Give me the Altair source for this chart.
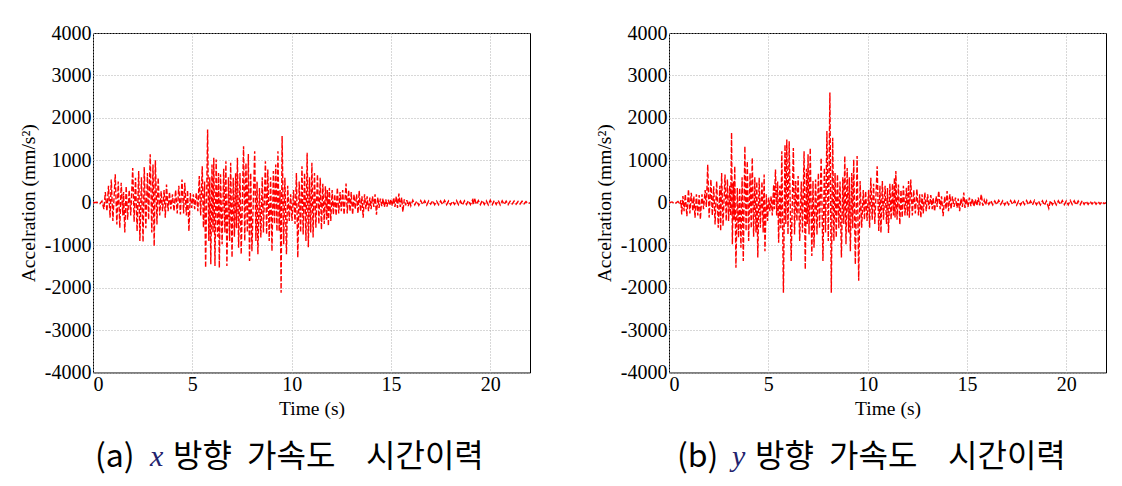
import altair as alt
import pandas as pd

# ---------------- data ----------------
time_x = [
    0.0, 0.2, 0.35, 0.45, 0.55, 0.62, 0.70, 0.78, 0.86, 0.92,
    1.00, 1.12, 1.20, 1.27, 1.35, 1.42, 1.50, 1.54, 1.60, 1.67,
    1.74, 1.82, 1.90, 2.00, 2.07, 2.14, 2.22, 2.30, 2.36, 2.44,
    2.52, 2.58, 2.66, 2.74, 2.80, 2.88, 2.96, 3.02, 3.08, 3.14,
    3.22, 3.28, 3.36, 3.43, 3.50, 3.58, 3.64, 3.70, 3.78, 3.85,
    3.92, 4.00, 4.08, 4.16, 4.24, 4.32, 4.40, 4.48, 4.56, 4.62,
    4.70, 4.76, 4.83, 4.90, 4.97, 5.05, 5.12, 5.20, 5.28, 5.35,
    5.42, 5.50, 5.56, 5.62, 5.67, 5.77, 5.83, 5.88, 5.93, 5.99,
    6.04, 6.08, 6.14, 6.20, 6.27, 6.32, 6.36, 6.42, 6.50, 6.58,
    6.64, 6.69, 6.74, 6.82, 6.88, 6.93, 7.00, 7.06, 7.12, 7.18,
    7.22, 7.27, 7.33, 7.40, 7.46, 7.58, 7.64, 7.70, 7.77, 7.82,
    7.88, 7.94, 8.00, 8.14, 8.20, 8.26, 8.30, 8.38, 8.45, 8.52,
    8.58, 8.68, 8.74, 8.80, 8.87, 8.94, 9.01, 9.08, 9.14, 9.20,
    9.26, 9.31, 9.37, 9.42, 9.47, 9.52, 9.60, 9.66, 9.74, 9.80,
    9.88, 9.95, 10.02, 10.10, 10.17, 10.24, 10.31, 10.38, 10.45, 10.52,
    10.58, 10.65, 10.72, 10.78, 10.84, 10.90, 10.96, 11.02, 11.08, 11.15,
    11.22, 11.30, 11.37, 11.44, 11.50, 11.57, 11.64, 11.70, 11.76, 11.80,
    11.85, 11.90, 11.97, 12.04, 12.10, 12.17, 12.24, 12.30, 12.37, 12.44,
    12.50, 12.57, 12.64, 12.74, 12.80, 12.87, 12.94, 13.00, 13.07, 13.14,
    13.20, 13.27, 13.34, 13.40, 13.47, 13.54, 13.60, 13.67, 13.74, 13.80,
    13.87, 13.94, 14.00, 14.07, 14.14, 14.20, 14.27, 14.34, 14.40, 14.47,
    14.54, 14.60, 14.67, 14.74, 14.80, 14.87, 14.94, 15.00, 15.07, 15.14,
    15.20, 15.27, 15.33, 15.40, 15.47, 15.54, 15.60, 15.67, 15.74, 15.80,
    15.87, 15.94, 16.00, 16.1, 16.2, 16.3, 16.4, 16.5, 16.6, 16.7,
    16.8, 16.9, 17.0, 17.1, 17.2, 17.3, 17.4, 17.5, 17.6, 17.7,
    17.8, 17.9, 18.0, 18.1, 18.2, 18.3, 18.4, 18.5, 18.6, 18.7,
    18.8, 18.9, 19.0, 19.1, 19.15, 19.2, 19.3, 19.4, 19.5, 19.6,
    19.7, 19.8, 19.9, 20.0, 20.1, 20.2, 20.3, 20.4, 20.5, 20.6,
    20.7, 20.8, 20.9, 21.0, 21.1, 21.2, 21.3, 21.4, 21.5, 21.6,
    21.7, 21.8, 21.9, 22.0,
]
accel_x = [
    0, 10, -20, 40, -150, 250, -200, 400, -350, 550,
    -430, 670, -510, 500, -590, 470, -300, 250, -700, 390,
    -400, 300, -300, 820, -450, 590, -670, 750, -900, 600,
    -925, 840, -600, 700, -400, 1140, -700, 900, -1020, 1000,
    -510, 590, -300, 275, -200, 300, -350, 430, -200, 250,
    -150, 200, -200, 300, -250, 400, -275, 550, -250, 470,
    -300, 300, -670, 230, -120, 200, -150, 235, -200, 630,
    -300, 860, -590, 500, -1530, 1725, -900, 600, -1450, 900,
    -700, 1060, -1490, 1020, -800, 700, -1530, 670, -980, 800,
    -700, 980, -1490, 600, -900, 940, -1290, 590, -800, 700,
    -600, 1060, -1060, 700, -1215, 1330, -900, 940, -700, 1150,
    -1370, 700, -1140, 1215, -900, 500, -1215, 350, -820, 600,
    -700, 980, -745, 785, -900, 600, -1140, 745, -500, 900,
    -670, 1215, -670, 300, -2120, 1570, -980, 590, -1215, 400,
    -430, 200, -430, 300, -500, 700, -1290, 500, -700, 860,
    -745, 700, -900, 1180, -1050, 600, -700, 940, -820, 700,
    -590, 670, -500, 590, -630, 450, -500, 390, -400, 300,
    -550, 350, -430, 300, -275, 200, -300, 355, -250, 250,
    -200, 300, -280, 450, -250, 300, -200, 250, -280, 200,
    -150, 200, -250, 280, -200, 150, -355, 200, -150, 150,
    -200, 120, -150, 150, -100, 200, -280, 120, -120, 100,
    -80, 100, -100, 80, -90, 70, -60, 80, -70, 120,
    -100, 150, -120, 215, -100, 120, -215, 80, -60, 60,
    -80, 50, -70, 60, -50, 40, -60, 50, -40, 45,
    -55, 40, -35, 50, -45, 35, -50, 40, -40, 55,
    -45, 40, -50, 35, -40, 50, -45, 40, -55, 45,
    -40, 50, -45, 60, -50, 120, -40, 50, -45, 55,
    -40, 45, -50, 60, -45, 50, -40, 55, -50, 45,
    -40, 40, -45, 35, -30, 40, -35, 30, -30, 35,
    -25, 30, -20, 0,
]

time_y = [
    0.0, 0.15, 0.30, 0.45, 0.55, 0.60, 0.64, 0.70, 0.76, 0.82,
    0.90, 0.98, 1.05, 1.12, 1.20, 1.25, 1.31, 1.38, 1.45, 1.52,
    1.58, 1.66, 1.74, 1.82, 1.88, 1.95, 2.02, 2.11, 2.18, 2.25,
    2.32, 2.40, 2.48, 2.56, 2.60, 2.65, 2.72, 2.82, 2.88, 2.94,
    3.00, 3.06, 3.10, 3.15, 3.19, 3.24, 3.28, 3.31, 3.37, 3.44,
    3.50, 3.56, 3.62, 3.68, 3.74, 3.82, 3.88, 3.94, 4.01, 4.08,
    4.14, 4.19, 4.26, 4.32, 4.38, 4.42, 4.47, 4.54, 4.60, 4.68,
    4.74, 4.79, 4.83, 4.90, 4.96, 5.02, 5.08, 5.14, 5.20, 5.27,
    5.30, 5.36, 5.42, 5.47, 5.52, 5.58, 5.63, 5.68, 5.76, 5.84,
    5.88, 5.93, 5.99, 6.05, 6.15, 6.26, 6.32, 6.38, 6.44, 6.50,
    6.58, 6.66, 6.72, 6.80, 6.86, 6.92, 6.96, 7.00, 7.05, 7.11,
    7.19, 7.25, 7.30, 7.38, 7.45, 7.52, 7.58, 7.66, 7.75, 7.82,
    7.88, 7.95, 8.02, 8.10, 8.17, 8.24, 8.30, 8.36, 8.42, 8.48,
    8.55, 8.61, 8.68, 8.75, 8.80, 8.85, 8.91, 8.97, 9.04, 9.08,
    9.13, 9.20, 9.25, 9.30, 9.38, 9.47, 9.55, 9.62, 9.70, 9.78,
    9.84, 9.90, 9.97, 10.05, 10.10, 10.16, 10.23, 10.30, 10.36, 10.48,
    10.56, 10.62, 10.67, 10.74, 10.80, 10.88, 10.95, 11.00, 11.05, 11.12,
    11.18, 11.25, 11.30, 11.35, 11.38, 11.42, 11.48, 11.55, 11.62, 11.68,
    11.74, 11.80, 11.88, 11.95, 12.00, 12.06, 12.10, 12.17, 12.25, 12.32,
    12.40, 12.48, 12.56, 12.62, 12.68, 12.74, 12.80, 12.88, 12.95, 13.02,
    13.10, 13.18, 13.25, 13.30, 13.37, 13.45, 13.50, 13.58, 13.65, 13.72,
    13.80, 13.88, 13.95, 14.00, 14.07, 14.14, 14.20, 14.27, 14.35, 14.42,
    14.50, 14.56, 14.63, 14.70, 14.77, 14.84, 14.90, 14.97, 15.05, 15.12,
    15.20, 15.27, 15.35, 15.42, 15.50, 15.57, 15.64, 15.72, 15.80, 15.87,
    15.94, 16.0, 16.1, 16.2, 16.3, 16.4, 16.5, 16.6, 16.7, 16.8,
    16.9, 17.0, 17.1, 17.2, 17.3, 17.4, 17.5, 17.6, 17.7, 17.8,
    17.9, 18.0, 18.1, 18.2, 18.3, 18.4, 18.5, 18.6, 18.7, 18.8,
    18.9, 19.0, 19.12, 19.2, 19.3, 19.4, 19.5, 19.6, 19.7, 19.8,
    19.9, 20.0, 20.1, 20.2, 20.3, 20.4, 20.5, 20.6, 20.7, 20.8,
    20.9, 21.0, 21.1, 21.2, 21.3, 21.4, 21.5, 21.6, 21.7, 21.8,
    21.9, 22.0,
]
accel_y = [
    0, 20, -20, 30, -40, 60, -275, 160, -200, 200,
    -315, 315, -250, 235, -200, 150, -350, 200, -300, 180,
    -390, 200, -150, 300, -100, 900, -350, 550, -300, 390,
    -510, 510, -590, 400, -665, 700, -550, 665, -430, 550,
    -430, 400, -300, 1650, -980, 500, -400, 860, -1530, 350,
    -820, 350, -1060, 600, -1370, 1330, -665, 980, -900, 700,
    -600, 1060, -800, 600, -700, 500, -1290, 590, -590, 500,
    -700, 665, -1140, 200, -430, 120, -200, 150, -300, 430,
    -150, 785, -300, 500, -940, 400, -600, 1215, -2120, 1370,
    -500, 1490, -745, 1450, -1370, 1290, -745, 510, -430, 630,
    -900, 500, -700, 1215, -1570, 800, -500, 1140, -745, 1290,
    -1255, 510, -1060, 550, -745, 700, -600, 1060, -1370, 820,
    -700, 1690, -900, 2600, -2120, 1530, -900, 700, -820, 665,
    -600, 500, -1290, 600, -500, 1100, -980, 820, -700, 600,
    -1140, 700, -600, 1020, -1450, 1100, -1840, 510, -590, 300,
    -400, 275, -430, 300, -590, 590, -400, 450, -500, 860,
    -665, 400, -710, 510, -400, 400, -500, 350, -710, 450,
    -400, 450, -300, 590, -350, 750, -400, 430, -510, 300,
    -350, 400, -300, 350, -300, 510, -355, 550, -300, 300,
    -250, 320, -300, 200, -355, 200, -250, 240, -200, 200,
    -150, 180, -150, 120, -200, 150, -100, 280, -150, 150,
    -315, 150, -150, 275, -200, 200, -150, 150, -100, 120,
    -120, 100, -200, 100, -100, 240, -120, 100, -100, 120,
    -80, 100, -90, 80, -70, 120, -60, 200, -70, 60,
    -50, 60, -40, 50, -50, 40, -45, 55, -40, 45,
    -50, 40, -45, 50, -40, 45, -55, 40, -50, 45,
    -40, 50, -45, 40, -50, 55, -45, 40, -50, 45,
    -60, 40, -130, 50, -45, 40, -50, 45, -40, 50,
    -45, 40, -50, 55, -40, 45, -50, 40, -45, 50,
    -40, 35, -40, 35, -30, 35, -35, 30, -30, 25,
    -20, 0,
]

x_ticks = [0, 5, 10, 15, 20]
y_ticks = [-4000, -3000, -2000, -1000, 0, 1000, 2000, 3000, 4000]

y_title = "Accelration (mm/s²)"
x_title = "Time (s)"

caption_a = ["(a)", "x", "방향", "가속도", "시간이력"]
caption_b = ["(b)", "y", "방향", "가속도", "시간이력"]

# ---------------- layout / style ----------------
W, H = 437, 339.5
SERIF = "Liberation Serif"
KFONT = "Noto Sans CJK KR"
CAP_Y = 424
CAP_SIZE = 32


def caption_layers(words, xs):
    layers = []
    for i, (w, xv) in enumerate(zip(words, xs)):
        is_var = i == 1
        layers.append(
            alt.Chart(pd.DataFrame({"s": [w]}))
            .mark_text(
                align="left",
                baseline="middle",
                font=SERIF if is_var else KFONT,
                fontSize=30 if is_var else CAP_SIZE,
                fontStyle="italic" if is_var else "normal",
                color="#23236e" if is_var else "#000000",
            )
            .encode(x=alt.value(xv), y=alt.value(CAP_Y), text="s:N")
        )
    return layers


def panel(t, a, words, xs):
    assert len(t) == len(a)
    df = pd.DataFrame({"t": t, "a": a, "i": list(range(len(t)))})
    line = (
        alt.Chart(df)
        .mark_line(color="#ff0000", strokeWidth=1.4, strokeDash=[5, 2], clip=True)
        .encode(
            x=alt.X(
                "t:Q",
                scale=alt.Scale(domain=[0, 22], nice=False, zero=False),
                axis=alt.Axis(
                    values=x_ticks,
                    title=x_title,
                    labelPadding=2,
                    titleY=36,
                    titleBaseline="middle",
                ),
            ),
            y=alt.Y(
                "a:Q",
                scale=alt.Scale(domain=[-4000, 4000], nice=False),
                axis=alt.Axis(
                    values=y_ticks,
                    title=y_title,
                    labelExpr="'' + datum.value",
                    labelPadding=2,
                    titleX=-65,
                    titleBaseline="middle",
                ),
            ),
            order=alt.Order("i:Q"),
        )
    )
    return alt.layer(line, *caption_layers(words, xs)).properties(width=W, height=H)


left = panel(time_x, accel_x, caption_a, [2, 57, 80, 154, 273])
right = panel(time_y, accel_y, caption_b, [8, 63, 86, 160, 279])

chart = (
    alt.hconcat(left, right, spacing=139, bounds="flush")
    .properties(padding={"left": 17, "top": 22, "right": 5, "bottom": 5}, background="white")
    .configure_view(stroke="#000000", strokeWidth=1)
    .configure_axis(
        labelFont=SERIF,
        labelFontSize=20,
        labelColor="#000000",
        titleFont=SERIF,
        titleFontSize=19.5,
        titleFontWeight="normal",
        titleColor="#000000",
        grid=True,
        gridColor="#b0b0b0",
        gridDash=[1, 2],
        gridWidth=1,
        domain=False,
        ticks=False,
        tickSize=0,
    )
)

chart.save("out.html", embed_options={"renderer": "svg", "actions": False})
